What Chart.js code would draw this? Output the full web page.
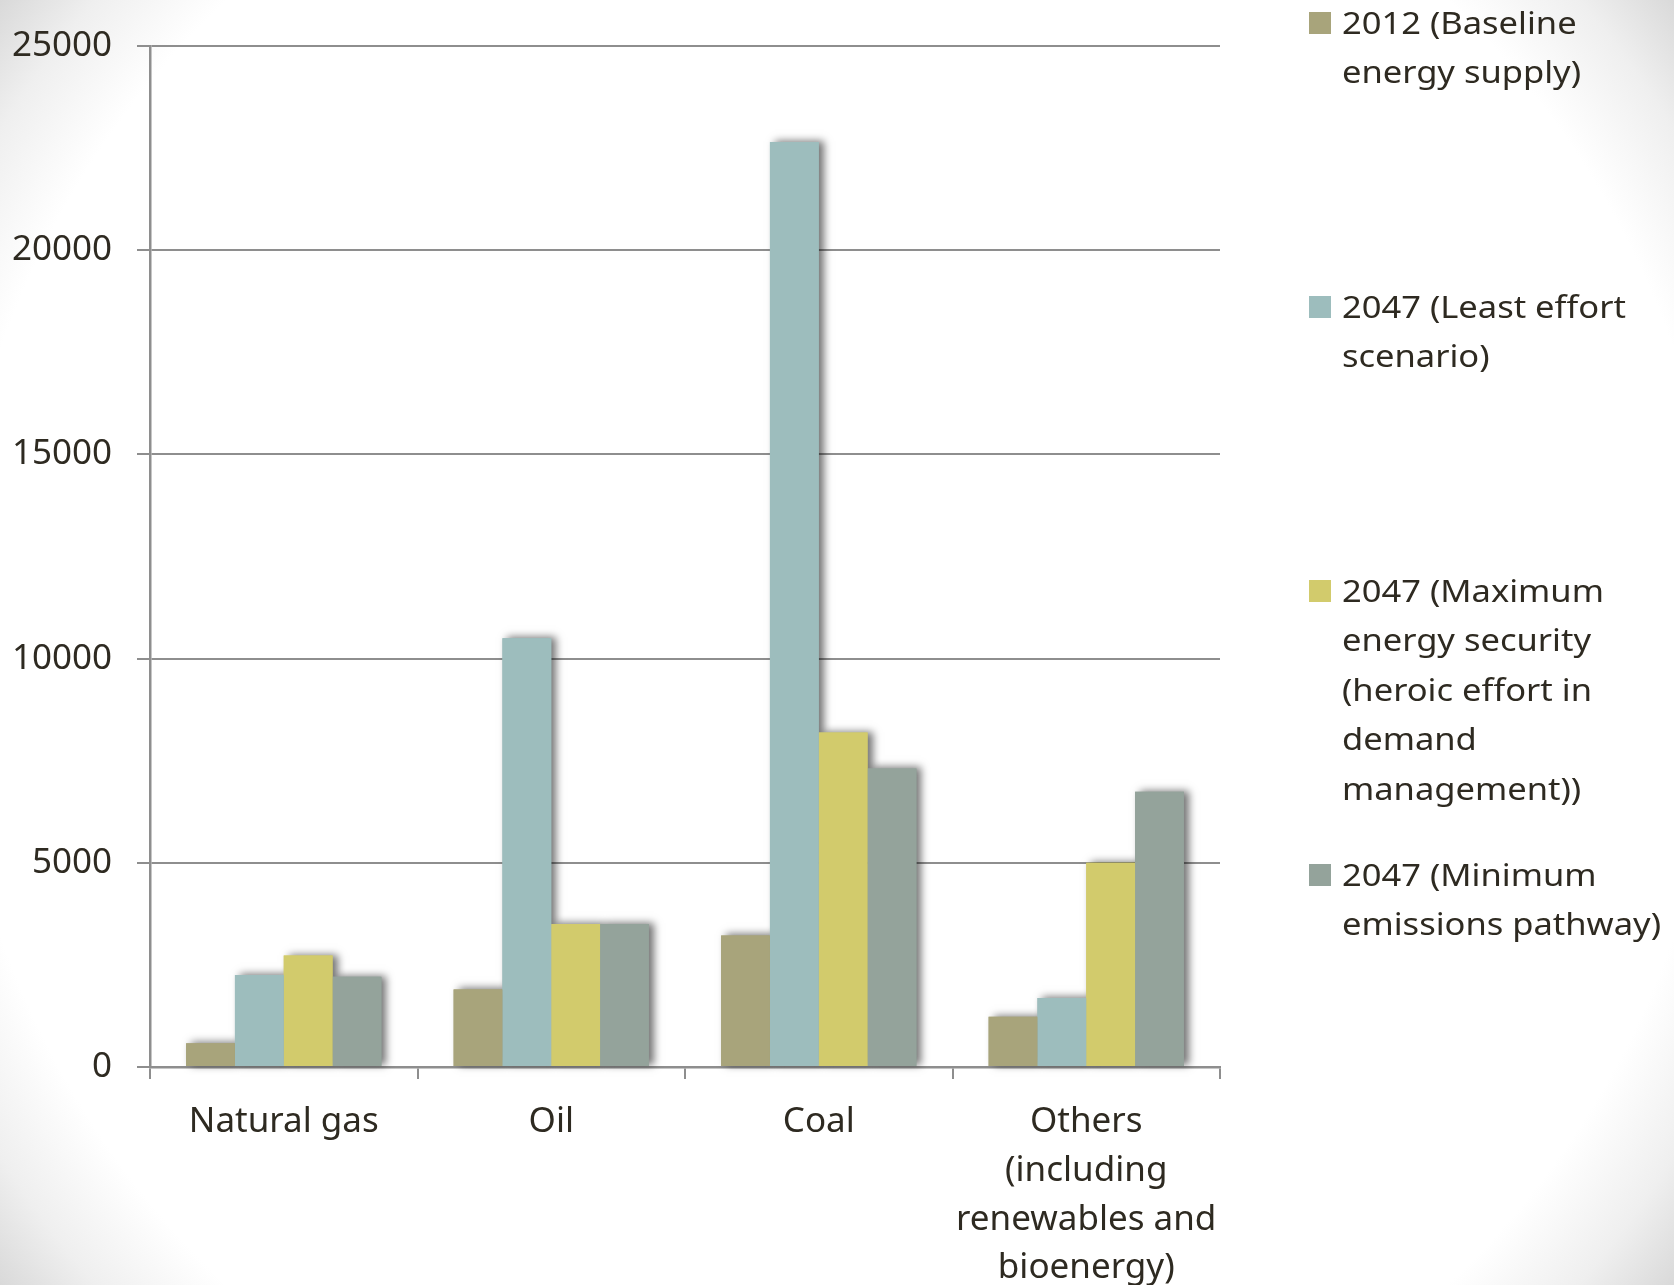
<!DOCTYPE html>
<html>
<head>
<meta charset="utf-8">
<script src="https://cdn.jsdelivr.net/npm/chart.js@4/dist/chart.umd.min.js"></script>
<style>
  html, body { margin: 0; padding: 0; }
  body {
    width: 1674px; height: 1285px; overflow: hidden;
    background: radial-gradient(circle farthest-corner at 50% 50%, #ffffff 0%, #ffffff 84%, #efefef 93%, #d9d9d9 100%);
  }
  #wrap { position: absolute; left: 0; top: 0; width: 1674px; height: 1285px; }
</style>
</head>
<body>
<div id="wrap"><canvas id="chart"></canvas></div>
<script>
// Energy supply by source, 2012 baseline versus three 2047 scenarios
const categories = [
  'Natural gas',
  'Oil',
  'Coal',
  ['Others', '(including', 'renewables and', 'bioenergy)']
];

const seriesNames = [
  '2012 (Baseline energy supply)',
  '2047 (Least effort scenario)',
  '2047 (Maximum energy security (heroic effort in demand management))',
  '2047 (Minimum emissions pathway)'
];

// legend text broken into the lines it is set in
const legendLines = [
  ['2012 (Baseline', 'energy supply)'],
  ['2047 (Least effort', 'scenario)'],
  ['2047 (Maximum', 'energy security', '(heroic effort in', 'demand', 'management))'],
  ['2047 (Minimum', 'emissions pathway)']
];

const baseline2012     = [580, 1900, 3220, 1230];
const leastEffort2047  = [2250, 10500, 22650, 1690];
const maxSecurity2047  = [2730, 3500, 8190, 5000];
const minEmissions2047 = [2210, 3500, 7310, 6740];

const yTicks = [0, 5000, 10000, 15000, 20000, 25000];

const seriesColors = ['#a8a47b', '#9dbdbd', '#d2cb6c', '#94a39b'];
const textColor = '#2e2a21';
const lineColor = '#8e8e8e';
const fontFamily = '"Noto Sans", "Open Sans", sans-serif';

// soft drop shadow drawn behind every bar before the bars themselves
const barShadow = {
  id: 'barShadow',
  beforeDatasetsDraw(chart) {
    const ctx = chart.ctx;
    ctx.save();
    ctx.shadowColor = 'rgba(0,0,0,0.55)';
    ctx.shadowBlur = 8;
    ctx.shadowOffsetX = 5;
    ctx.shadowOffsetY = -1;
    chart.data.datasets.forEach((ds, i) => {
      const meta = chart.getDatasetMeta(i);
      meta.data.forEach(bar => {
        const p = bar.getProps(['x', 'y', 'base', 'width'], true);
        ctx.fillStyle = ds.backgroundColor;
        ctx.fillRect(p.x - p.width / 2, p.y, p.width, p.base - p.y);
      });
    });
    ctx.restore();
  }
};

// legend on the right: square marker plus wrapped label, items evenly spread
const sideLegend = {
  id: 'sideLegend',
  afterDraw(chart) {
    const ctx = chart.ctx;
    const area = chart.chartArea;
    const x0 = area.right + 89;
    const box = 22;
    const itemGap = 284;
    const lineGap = 49.5;
    const stretch = 1.15;
    ctx.save();
    ctx.font = '30px ' + fontFamily;
    ctx.textBaseline = 'alphabetic';
    ctx.textAlign = 'left';
    legendLines.forEach((lines, i) => {
      const top = 12 + i * itemGap;
      ctx.fillStyle = seriesColors[i];
      ctx.fillRect(x0, top, box, box);
      ctx.fillStyle = textColor;
      lines.forEach((t, j) => {
        ctx.save();
        ctx.translate(x0 + box + 11, top + 21.5 + j * lineGap);
        ctx.scale(stretch, 1);
        ctx.fillText(t, 0, 0);
        ctx.restore();
      });
    });
    ctx.restore();
  }
};

const datasets = [baseline2012, leastEffort2047, maxSecurity2047, minEmissions2047].map((vals, i) => ({
  label: seriesNames[i],
  data: vals,
  backgroundColor: seriesColors[i],
  borderWidth: 0,
  categoryPercentage: 0.73,
  barPercentage: 1.0
}));

new Chart(document.getElementById('chart'), {
  type: 'bar',
  data: { labels: categories, datasets },
  options: {
    responsive: true,
    maintainAspectRatio: false,
    animation: false,
    layout: { padding: { left: 0, top: 43, right: 454, bottom: 0 } },
    plugins: {
      legend: { display: false },
      tooltip: { enabled: false }
    },
    scales: {
      x: {
        grid: {
          display: true,
          offset: true,
          drawOnChartArea: false,
          drawTicks: true,
          tickLength: 12,
          color: lineColor,
          lineWidth: 2
        },
        border: { display: true, color: lineColor, width: 2.5 },
        ticks: {
          color: textColor,
          font: { family: fontFamily, size: 35, lineHeight: 1.39 },
          padding: 19,
          maxRotation: 0,
          autoSkip: false
        },
        afterFit(scale) { scale.height = 218; }
      },
      y: {
        min: 0,
        max: 25000,
        afterBuildTicks(scale) { scale.ticks = yTicks.map(v => ({ value: v })); },
        grid: {
          color: lineColor,
          lineWidth: 2,
          drawTicks: true,
          tickLength: 13
        },
        border: { display: true, color: lineColor, width: 2.5 },
        ticks: {
          color: textColor,
          font: { family: fontFamily, size: 35 },
          padding: 25,
          callback: v => String(v)
        },
        afterFit(scale) { scale.width = 150; }
      }
    }
  },
  plugins: [barShadow, sideLegend]
});
</script>
</body>
</html>
